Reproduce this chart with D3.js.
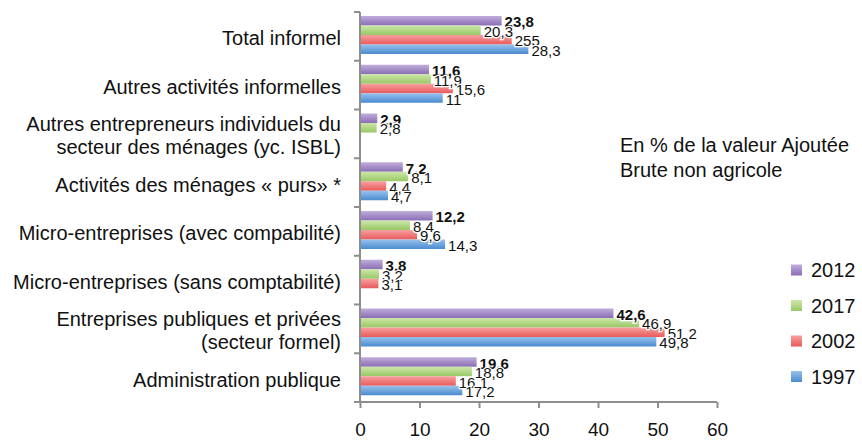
<!DOCTYPE html>
<html>
<head>
<meta charset="utf-8">
<script src="https://cdn.jsdelivr.net/npm/d3@7"></script>
<style>
  html, body { margin: 0; padding: 0; background: #fff; }
  svg { display: block; }
  text { font-family: "Liberation Sans", Arial, Helvetica, sans-serif; fill: #111; }
</style>
</head>
<body>
<svg id="chart" width="862" height="440"></svg>
<script>
// ---- data ----
const categories = [
  ["Total informel"],
  ["Autres activités informelles"],
  ["Autres entrepreneurs individuels du", "secteur des ménages (yc. ISBL)"],
  ["Activités des ménages « purs» *"],
  ["Micro-entreprises (avec compabilité)"],
  ["Micro-entreprises (sans comptabilité)"],
  ["Entreprises publiques et privées", "(secteur formel)"],
  ["Administration publique"]
];
const seriesNames = ["2012", "2017", "2002", "1997"];
const values2012 = [23.8, 11.6, 2.9, 7.2, 12.2, 3.8, 42.6, 19.6];
const values2017 = [20.3, 11.9, 2.8, 8.1, 8.4, 3.2, 46.9, 18.8];
const values2002 = [25.5, 15.6, null, 4.4, 9.6, 3.1, 51.2, 16.1];
const values1997 = [28.3, 13.9, null, 4.7, 14.3, null, 49.8, 17.2];
const labels2012 = ["23,8", "11,6", "2,9", "7,2", "12,2", "3,8", "42,6", "19,6"];
const labels2017 = ["20,3", "11,9", "2,8", "8,1", "8,4", "3,2", "46,9", "18,8"];
const labels2002 = ["255", "15,6", null, "4,4", "9,6", "3,1", "51,2", "16,1"];
const labels1997 = ["28,3", "11", null, "4,7", "14,3", null, "49,8", "17,2"];
const xTicks = [0, 10, 20, 30, 40, 50, 60];
const note = ["En % de la valeur Ajoutée", "Brute non agricole"];

const seriesValues = [values2012, values2017, values2002, values1997];
const seriesLabels = [labels2012, labels2017, labels2002, labels1997];
const colors = [
  ["#c0aedb", "#8a6db5"],
  ["#cde7a8", "#98c865"],
  ["#f8a0a0", "#e85a5a"],
  ["#98c2ec", "#4a8bd0"]
];

// ---- layout ----
const svg = d3.select("#chart");
const x = d3.scaleLinear().domain([0, 60]).range([360, 717]);
const y = d3.scaleBand().domain(d3.range(categories.length)).range([12, 402]);
const ySub = d3.scaleBand().domain(d3.range(seriesNames.length)).range([4, 42]);

const defs = svg.append("defs");
colors.forEach((c, i) => {
  const g = defs.append("linearGradient").attr("id", "g" + i)
    .attr("x1", 0).attr("y1", 0).attr("x2", 0).attr("y2", 1);
  g.append("stop").attr("offset", "0%").attr("stop-color", c[0]);
  g.append("stop").attr("offset", "100%").attr("stop-color", c[1]);
});

// bars
seriesValues.forEach((vals, s) => {
  svg.append("g").selectAll("rect")
    .data(vals.map((v, i) => ({ v, i })).filter(d => d.v != null))
    .join("rect")
    .attr("x", x(0))
    .attr("y", d => y(d.i) + ySub(s))
    .attr("width", d => x(d.v) - x(0))
    .attr("height", ySub.bandwidth())
    .attr("fill", "url(#g" + s + ")");
});

// value labels
seriesValues.forEach((vals, s) => {
  svg.append("g").selectAll("text")
    .data(vals.map((v, i) => ({ v, i, t: seriesLabels[s][i] })).filter(d => d.v != null))
    .join("text")
    .attr("x", d => x(d.v) + 3)
    .attr("y", d => y(d.i) + ySub(s) + ySub.bandwidth() / 2 + 1)
    .attr("dominant-baseline", "central")
    .attr("font-size", 15)
    .attr("font-weight", s === 0 ? "bold" : "normal")
    .attr("fill", "#000")
    .attr("stroke", "#fff").attr("stroke-width", 2.5)
    .attr("paint-order", "stroke")
    .text(d => d.t);
});

// y axis
const yAxisG = svg.append("g");
yAxisG.append("line")
  .attr("x1", x(0)).attr("x2", x(0)).attr("y1", y.range()[0]).attr("y2", y.range()[1])
  .attr("stroke", "#8e8e8e").attr("stroke-width", 2);
const bounds = d3.range(categories.length + 1).map(i => y.range()[0] + i * y.step());
yAxisG.selectAll("line.tk").data(bounds).join("line").attr("class", "tk")
  .attr("x1", x(0) - 6).attr("x2", x(0)).attr("y1", d => d).attr("y2", d => d)
  .attr("stroke", "#8e8e8e").attr("stroke-width", 2);

// category labels
categories.forEach((lines, i) => {
  const cy = y(i) + y.bandwidth() / 2 + 2;
  const lh = 23;
  const t = svg.append("text")
    .attr("text-anchor", "end")
    .attr("font-size", 20)
    .attr("fill", "#111");
  lines.forEach((ln, k) => {
    t.append("tspan")
      .attr("x", 341)
      .attr("y", cy + (k - (lines.length - 1) / 2) * lh)
      .attr("dominant-baseline", "central")
      .text(ln);
  });
});

// x axis
const xAxis = d3.axisBottom(x).tickValues(xTicks).tickSize(6).tickPadding(15).tickFormat(d3.format("d"));
const xg = svg.append("g").attr("transform", "translate(0," + y.range()[1] + ")").call(xAxis);
xg.select(".domain").attr("stroke", "#8e8e8e").attr("stroke-width", 2)
  .attr("d", "M" + x(0) + ",0H" + x(60));
xg.selectAll(".tick line").attr("stroke", "#8e8e8e").attr("stroke-width", 2);
xg.selectAll(".tick text").attr("font-size", 19).attr("fill", "#111")
  .attr("font-family", "'Liberation Sans', Arial, Helvetica, sans-serif");

// note
svg.append("g").selectAll("text").data(note).join("text")
  .attr("x", 620).attr("y", (d, i) => 145 + i * 25)
  .attr("dominant-baseline", "central")
  .attr("font-size", 20)
  .text(d => d);

// legend
const lg = svg.append("g");
seriesNames.forEach((n, i) => {
  const cy = 270 + i * 35.5;
  lg.append("rect").attr("x", 791).attr("y", cy - 5.5).attr("width", 11).attr("height", 11)
    .attr("fill", "url(#g" + i + ")");
  lg.append("text").attr("x", 811).attr("y", cy).attr("dominant-baseline", "central")
    .attr("font-size", 20).text(n);
});
</script>
</body>
</html>
